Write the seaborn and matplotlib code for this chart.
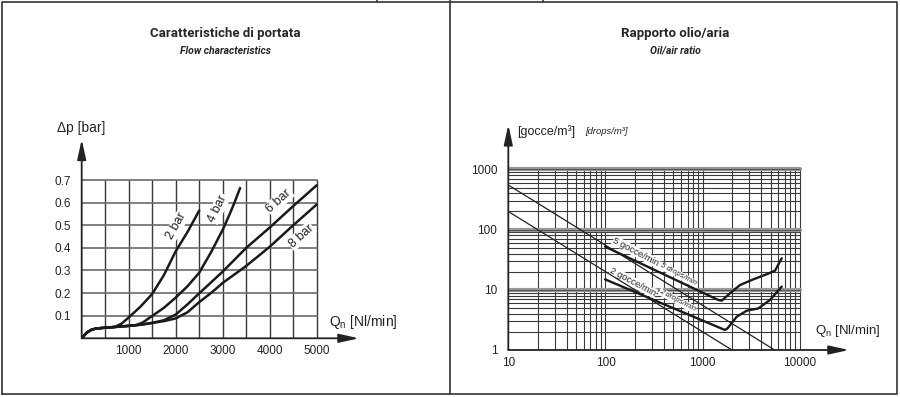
import numpy as np
import pandas as pd
import matplotlib
matplotlib.use("Agg")
import matplotlib.pyplot as plt
from matplotlib.lines import Line2D
from matplotlib.ticker import NullLocator
import seaborn as sns

# ---------------- data: flow characteristics ----------------
q_2bar = [0, 50, 107, 200, 300, 500, 700, 850, 1000, 1250, 1500, 1750, 2000, 2250, 2500]
dp_2bar = [0, 0.012, 0.025, 0.037, 0.043, 0.047, 0.050, 0.065, 0.092, 0.140, 0.196, 0.280, 0.385, 0.470, 0.565]

q_4bar = [0, 50, 107, 200, 300, 500, 700, 1000, 1150, 1300, 1500, 1750, 2000, 2250, 2500, 2750, 3000, 3150, 3250, 3370]
dp_4bar = [0, 0.012, 0.025, 0.037, 0.043, 0.047, 0.050, 0.055, 0.058, 0.070, 0.099, 0.135, 0.180, 0.230, 0.290, 0.380, 0.480, 0.550, 0.600, 0.665]

q_6bar = [0, 50, 107, 200, 300, 500, 700, 1000, 1250, 1500, 1750, 2000, 2250, 2500, 3000, 3500, 4000, 4500, 5000]
dp_6bar = [0, 0.012, 0.025, 0.037, 0.043, 0.047, 0.050, 0.055, 0.060, 0.068, 0.080, 0.105, 0.150, 0.199, 0.295, 0.400, 0.490, 0.585, 0.677]

q_8bar = [0, 50, 107, 200, 300, 500, 700, 1000, 1250, 1500, 1750, 2000, 2250, 2500, 2750, 3000, 3500, 4000, 4500, 5000]
dp_8bar = [0, 0.012, 0.025, 0.037, 0.043, 0.047, 0.050, 0.055, 0.060, 0.068, 0.076, 0.088, 0.115, 0.160, 0.200, 0.245, 0.320, 0.405, 0.500, 0.592]

curve_names = ["2 bar", "4 bar", "6 bar", "8 bar"]
q_ticks = [1000, 2000, 3000, 4000, 5000]
dp_ticks = [0.1, 0.2, 0.3, 0.4, 0.5, 0.6, 0.7]

# ---------------- data: oil/air ratio ----------------
q_5drops = [99, 1449, 1570, 1910, 2420, 3310, 4550, 5550, 6500]
r_5drops = [52, 6.77, 6.6, 8.75, 12.0, 14.9, 18.1, 20.8, 33.4]

q_2drops = [99, 1694, 1800, 2240, 2840, 3730, 4920, 6500]
r_2drops = [14.9, 2.15, 2.29, 3.57, 4.5, 4.9, 6.77, 11.3]

q_refA = [10, 5500]
r_refA = [550, 1]
q_refB = [10, 2000]
r_refB = [200, 1]

q_log_ticks = [10, 100, 1000, 10000]
r_log_ticks = [1, 10, 100, 1000]

# ---------------- style ----------------
sns.set_theme(style="white")
plt.rcParams["font.family"] = ["Liberation Sans", "DejaVu Sans"]
plt.rcParams["mathtext.fontset"] = "custom"
plt.rcParams["mathtext.rm"] = "Liberation Sans"
plt.rcParams["mathtext.it"] = "Liberation Sans:italic"
NARROW = ["Roboto", "DejaVu Sans"]

W, H = 900, 397
fig = plt.figure(figsize=(9, 3.97), dpi=100)

# frame
fr = dict(color="#333333", lw=1.2)
fig.add_artist(Line2D([2 / W, 897 / W, 897 / W, 2 / W, 2 / W],
                      [(H - 394) / H, (H - 394) / H, (H - 1.5) / H, (H - 1.5) / H, (H - 394) / H], **fr))
fig.add_artist(Line2D([450 / W, 450 / W], [(H - 394) / H, 1], **fr))
fig.add_artist(Line2D([377 / W, 377 / W], [(H - 1.5) / H, 1], **fr))
fig.add_artist(Line2D([543 / W, 543 / W], [(H - 1.5) / H, 1], **fr))

# titles
fig.text(225 / W, 1 - 33 / H, "Caratteristiche di portata", ha="center", va="center",
         fontsize=9.5, fontweight="bold", family=NARROW)
fig.text(225 / W, 1 - 51 / H, "Flow characteristics", ha="center", va="center",
         fontsize=7.5, style="italic", fontweight="bold", family=NARROW)
fig.text(675 / W, 1 - 33 / H, "Rapporto olio/aria", ha="center", va="center",
         fontsize=9.5, fontweight="bold", family=NARROW)
fig.text(675 / W, 1 - 51 / H, "Oil/air ratio", ha="center", va="center",
         fontsize=7.5, style="italic", fontweight="bold", family=NARROW)

arrow = dict(arrowstyle="-|>,head_length=1.0,head_width=0.22", color="#222222", lw=1.3,
             shrinkA=0, shrinkB=0)
box = dict(facecolor="white", edgecolor="none", pad=0.6)

# ================= left chart =================
x0, y0 = 81.7, 338.3
ax1 = fig.add_axes([x0 / W, (H - y0) / H, (359 - x0) / W, (y0 - 139.4) / H])
ax1.set_xlim(0, 5900)
ax1.set_ylim(0, 0.88)
for s in ax1.spines.values():
    s.set_visible(False)

for v in range(500, 5001, 500):
    ax1.plot([v, v], [0, 0.7], color="#3a3a3a", lw=1.0, zorder=1)
for h in dp_ticks:
    ax1.plot([0, 5000], [h, h], color="#6a6a6a", lw=1.2, zorder=1)

df_left = pd.concat([
    pd.DataFrame({"Q": q_2bar, "dp": dp_2bar, "curve": curve_names[0]}),
    pd.DataFrame({"Q": q_4bar, "dp": dp_4bar, "curve": curve_names[1]}),
    pd.DataFrame({"Q": q_6bar, "dp": dp_6bar, "curve": curve_names[2]}),
    pd.DataFrame({"Q": q_8bar, "dp": dp_8bar, "curve": curve_names[3]}),
])
sns.lineplot(data=df_left, x="Q", y="dp", units="curve", estimator=None, sort=False,
             color="#1a1a1a", lw=1.8, ax=ax1, legend=False, zorder=3)

ax1.annotate("", xy=(5900, 0), xytext=(0, 0), arrowprops=arrow, annotation_clip=False)
ax1.annotate("", xy=(0, 0.88), xytext=(0, 0), arrowprops=arrow, annotation_clip=False)

ax1.set_xticks(q_ticks)
ax1.set_xticklabels([str(v) for v in q_ticks])
ax1.set_yticks(dp_ticks)
ax1.set_yticklabels([f"{v:.1f}" for v in dp_ticks])
ax1.tick_params(axis="x", length=0, pad=5, labelsize=8.5, labelcolor="#222222")
ax1.tick_params(axis="y", length=0, pad=8, labelsize=8.5, labelcolor="#222222")
ax1.set_xlabel("")
ax1.set_ylabel("")

ax1.text(-525, 0.93, "Δp [bar]", ha="left", va="center", fontsize=10, color="#222222", clip_on=False)
ax1.text(5260, 0.072, "Q$_\\mathregular{n}$ [Nl/min]", ha="left", va="center", fontsize=10,
         color="#222222", clip_on=False)

lbl = dict(ha="center", va="center", fontsize=9, color="#222222", rotation_mode="anchor",
           bbox=box, zorder=2)
ax1.text(2010, 0.495, "2 bar", rotation=61, **lbl)
ax1.text(2900, 0.575, "4 bar", rotation=64, **lbl)
ax1.text(4200, 0.608, "6 bar", rotation=42, **lbl)
ax1.text(4670, 0.452, "8 bar", rotation=42, **lbl)

# ================= right chart =================
rx0, ry0 = 508.3, 350
ax2 = fig.add_axes([rx0 / W, (H - ry0) / H, (849 - rx0) / W, (ry0 - 124.8) / H])
ax2.set_xscale("log")
ax2.set_yscale("log")
ax2.set_xlim(10, 32000)
ax2.set_ylim(1, 5500)
for s in ax2.spines.values():
    s.set_visible(False)

vgrid = [m * 10 ** e for e in (1, 2, 3) for m in range(1, 10)] + [10000]
hgrid = [m * 10 ** e for e in (0, 1, 2) for m in range(1, 10)] + [1000]
for v in vgrid[1:]:
    ax2.plot([v, v], [1, 1000], color="#3a3a3a", lw=0.8, zorder=1)
for h in hgrid[1:]:
    if h in (10, 100, 1000):
        ax2.plot([10, 10000], [h, h], color="#9a9a9a", lw=3.0, zorder=1)
        ax2.plot([10, 10000], [h, h], color="#555555", lw=0.8, zorder=1)
    else:
        ax2.plot([10, 10000], [h, h], color="#3a3a3a", lw=0.8, zorder=1)

df_ref = pd.concat([
    pd.DataFrame({"Q": q_refA, "r": r_refA, "line": "A"}),
    pd.DataFrame({"Q": q_refB, "r": r_refB, "line": "B"}),
])
sns.lineplot(data=df_ref, x="Q", y="r", units="line", estimator=None, sort=False,
             color="#222222", lw=0.9, ax=ax2, legend=False, zorder=3)

df_right = pd.concat([
    pd.DataFrame({"Q": q_5drops, "r": r_5drops, "rate": "5"}),
    pd.DataFrame({"Q": q_2drops, "r": r_2drops, "rate": "2"}),
])
sns.lineplot(data=df_right, x="Q", y="r", units="rate", estimator=None, sort=False,
             color="#1a1a1a", lw=1.7, ax=ax2, legend=False, zorder=3)
ax2.set_xscale("log")
ax2.set_yscale("log")
ax2.set_xlim(10, 32000)
ax2.set_ylim(1, 5500)

ax2.annotate("", xy=(32000, 1), xytext=(10, 1), arrowprops=arrow, annotation_clip=False)
ax2.annotate("", xy=(10, 5500), xytext=(10, 1), arrowprops=arrow, annotation_clip=False)

ax2.set_xticks(q_log_ticks)
ax2.set_xticklabels([str(v) for v in q_log_ticks])
ax2.set_yticks(r_log_ticks)
ax2.set_yticklabels([str(v) for v in r_log_ticks])
ax2.xaxis.set_minor_locator(NullLocator())
ax2.yaxis.set_minor_locator(NullLocator())
ax2.tick_params(axis="x", length=0, pad=5, labelsize=8.5, labelcolor="#222222")
ax2.tick_params(axis="y", length=0, pad=8, labelsize=8.5, labelcolor="#222222")
ax2.set_xlabel("")
ax2.set_ylabel("")

ax2.text(12.3, 4300, "[gocce/m³]", ha="left", va="center", fontsize=9, color="#222222", clip_on=False)
ax2.text(61.5, 4200, "[drops/m³]", ha="left", va="center", fontsize=6.8, style="italic",
         color="#222222", clip_on=False)
ax2.text(14300, 2.07, "Q$_\\mathregular{n}$ [Nl/min]", ha="left", va="center", fontsize=9.5,
         color="#222222", clip_on=False)

rl = dict(ha="center", va="center", color="#222222", rotation=-28, rotation_mode="anchor",
          bbox=dict(facecolor="white", edgecolor="none", pad=0.3), zorder=2)
ax2.text(206, 42.5, "5 gocce/min", fontsize=6.8, **rl)
ax2.text(557, 18.0, "5 drops/min", fontsize=5.5, style="italic", **rl)
ax2.text(192, 13.4, "2 gocce/min", fontsize=6.8, **rl)
ax2.text(551, 6.6, "2 drops/min", fontsize=5.5, style="italic", **rl)

fig.savefig("out.png", dpi=100, facecolor="white")
